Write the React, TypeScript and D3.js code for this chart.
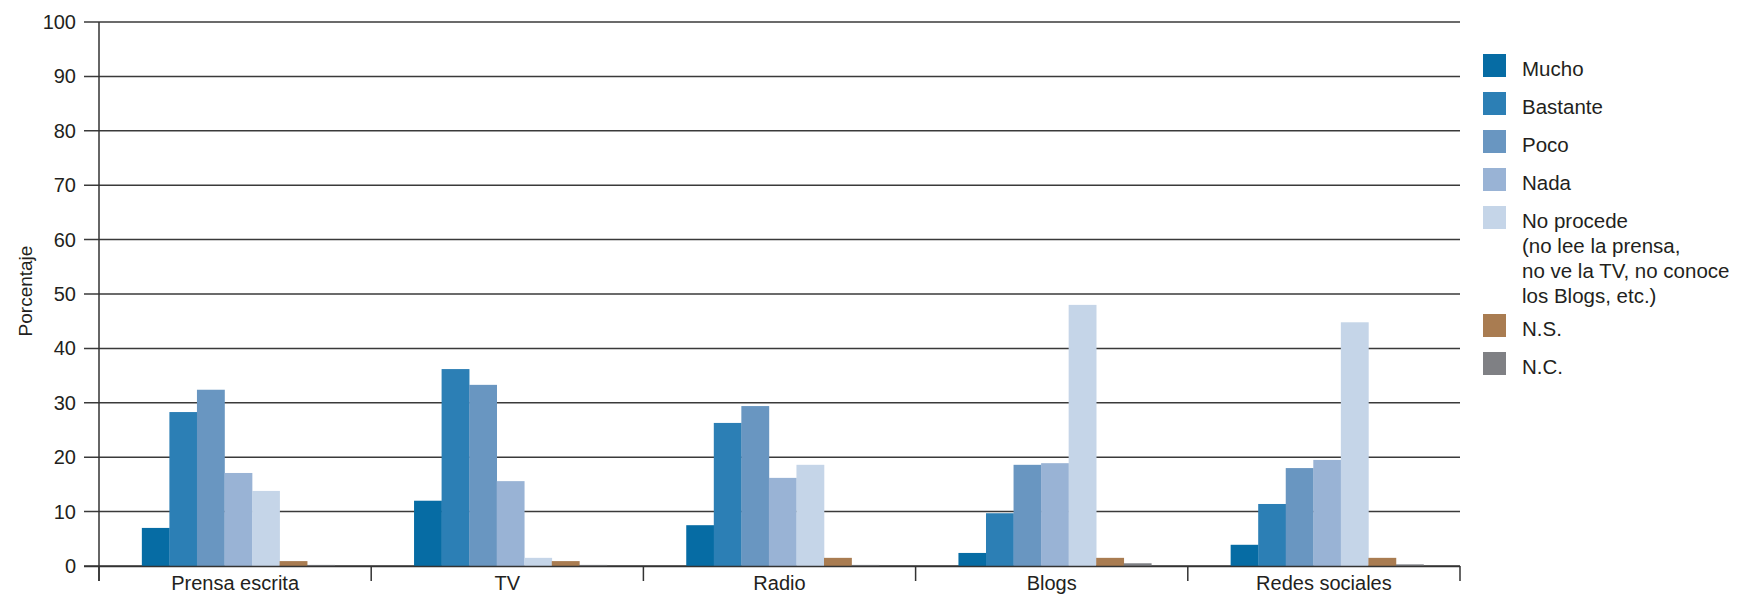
import React from "react";
import * as d3 from "d3";

const categories = ["Prensa escrita", "TV", "Radio", "Blogs", "Redes sociales"];
const seriesNames = ["Mucho", "Bastante", "Poco", "Nada", "No procede", "N.S.", "N.C."];
const legendLabels = [
  ["Mucho"],
  ["Bastante"],
  ["Poco"],
  ["Nada"],
  ["No procede", "(no lee la prensa,", "no ve la TV, no conoce", "los Blogs, etc.)"],
  ["N.S."],
  ["N.C."],
];
const seriesColors = ["#066ca4", "#2c7fb5", "#6996c1", "#99b3d5", "#c5d5e8", "#a97c51", "#7f8084"];

const mucho = [7.0, 12.0, 7.5, 2.4, 3.9];
const bastante = [28.3, 36.2, 26.3, 9.7, 11.4];
const poco = [32.4, 33.3, 29.4, 18.6, 18.0];
const nada = [17.1, 15.6, 16.2, 18.9, 19.5];
const noProcede = [13.8, 1.5, 18.6, 48.0, 44.8];
const ns = [0.9, 0.9, 1.5, 1.5, 1.5];
const nc = [0.2, 0.2, 0.2, 0.5, 0.3];
const seriesValues = [mucho, bastante, poco, nada, noProcede, ns, nc];

const yTicks = [0, 10, 20, 30, 40, 50, 60, 70, 80, 90, 100];

const FONT = "'Liberation Sans', Arial, Helvetica, sans-serif";

export default function App() {
  const W = 1740;
  const H = 595;
  const x0 = 99;
  const x1 = 1460;
  const yTop = 22;
  const yBottom = 566;

  const x = d3.scaleBand<string>().domain(categories).range([x0, x1]).paddingInner(0).paddingOuter(0);
  const xi = d3
    .scaleBand<string>()
    .domain(seriesNames)
    .range([0, x.bandwidth()])
    .paddingInner(0)
    .paddingOuter(1.44)
    .align(0.54);
  const y = d3.scaleLinear().domain([0, 100]).range([yBottom, yTop]);

  const boundaries = categories.map((c) => x(c)!).concat([x1]);
  const gridColor = "#3a3a3a";

  return (
    <div>
      <style>{"body{margin:0}"}</style>
      <svg width={W} height={H} style={{ display: "block", background: "#fff" }} fontFamily={FONT}>
        {yTicks.map((t) => (
          <line key={"g" + t} x1={84} x2={x1} y1={y(t)} y2={y(t)} stroke={gridColor} strokeWidth={1.5} />
        ))}
        {yTicks.map((t) => (
          <text key={"t" + t} x={76} y={y(t)} dy="0.35em" textAnchor="end" fontSize={20} fill="#231f20">
            {t}
          </text>
        ))}
        {seriesValues.map((vals, si) =>
          vals.map((v, ci) => (
            <rect
              key={`b${si}-${ci}`}
              x={x(categories[ci])! + xi(seriesNames[si])!}
              y={y(v)}
              width={xi.bandwidth() + 0.3}
              height={yBottom - y(v)}
              fill={seriesColors[si]}
            />
          ))
        )}
        <line x1={84} x2={x1} y1={yBottom + 0.5} y2={yBottom + 0.5} stroke="#333" strokeWidth={1.5} />
        <line x1={x0} x2={x0} y1={yTop} y2={581} stroke="#333" strokeWidth={1.5} />
        {boundaries.map((b, i) => (
          <line key={"ct" + i} x1={b} x2={b} y1={yBottom} y2={581} stroke="#333" strokeWidth={1.5} />
        ))}
        {categories.map((c) => (
          <text key={"c" + c} x={x(c)! + x.bandwidth() / 2} y={590} textAnchor="middle" fontSize={20} fill="#231f20">
            {c}
          </text>
        ))}
        <text transform="translate(32,291) rotate(-90)" textAnchor="middle" fontSize={19} fill="#231f20">
          Porcentaje
        </text>
        {legendLabels.map((lines, i) => {
          const sy = [54, 92, 130, 168, 206, 314, 352][i];
          return (
            <g key={"l" + i}>
              <rect x={1483} y={sy} width={23} height={23} fill={seriesColors[i]} />
              {lines.map((ln, j) => (
                <text key={j} x={1522} y={sy + 21.5 + j * 25.3} fontSize={20.5} fill="#231f20">
                  {ln}
                </text>
              ))}
            </g>
          );
        })}
      </svg>
    </div>
  );
}
